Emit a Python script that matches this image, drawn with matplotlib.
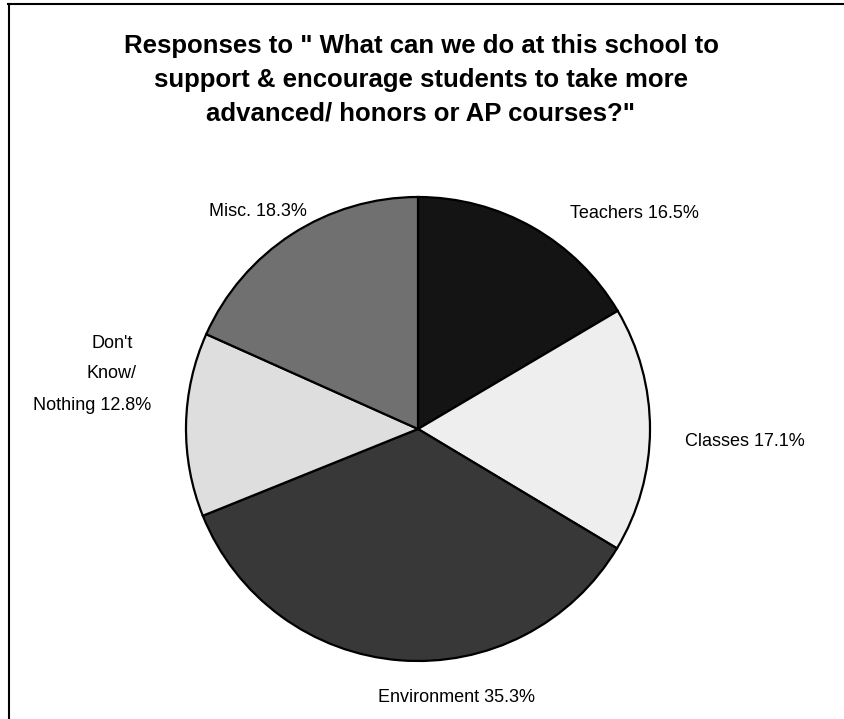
import matplotlib
matplotlib.use("Agg")
import matplotlib.pyplot as plt
from matplotlib.lines import Line2D

categories = ["Teachers", "Classes", "Environment", "Don't Know/ Nothing", "Misc."]
values = [16.5, 17.1, 35.3, 12.8, 18.3]
colors = ["#141414", "#eeeeee", "#383838", "#dedede", "#707070"]
title = 'Responses to " What can we do at this school to\nsupport & encourage students to take more\nadvanced/ honors or AP courses?"'

W, H = 844, 719
fig = plt.figure(figsize=(W / 100, H / 100), dpi=100)
ax = fig.add_axes([0, 0, 1, 1])
plt.rcParams["font.family"] = ["Liberation Sans", "DejaVu Sans"]
fam = ["Liberation Sans", "DejaVu Sans"]

cx, cy, r = 418, H - 429, 232
wedges, _ = ax.pie(values, colors=colors, startangle=90, counterclock=False,
                   center=(cx, cy), radius=r, frame=True,
                   wedgeprops=dict(edgecolor="black", linewidth=1.6))
ax.set_xlim(0, W)
ax.set_ylim(0, H)
ax.set_aspect("equal")
ax.axis("off")

# label placement (pixel coords of each text line centre)
label_lines = [
    [(634, 213)],
    [(745, 441)],
    [(457, 697)],
    [(112, 343), (111, 373), (92, 405)],
    [(258, 212)],
]
for cat, v, pos in zip(categories, values, label_lines):
    full = f"{cat} {v:.1f}%"
    if len(pos) == 1:
        parts = [full]
    else:
        words = cat.split(" ")
        parts = words[:-1] + [f"{words[-1]} {v:.1f}%"]
    for txt, (px, py) in zip(parts, pos):
        ax.text(px, H - py, txt, ha="center", va="center",
                fontsize=13, family=fam)

ax.text(421, H - 80, title, ha="center", va="center", fontsize=18.5,
        fontweight="bold", family=fam, linespacing=1.5)

# frame
ax.add_line(Line2D([8, W], [H - 4, H - 4], color="black", linewidth=1.5))
ax.add_line(Line2D([8.5, 8.5], [0, H - 4], color="black", linewidth=1.5))

fig.savefig("out.png", dpi=100)
